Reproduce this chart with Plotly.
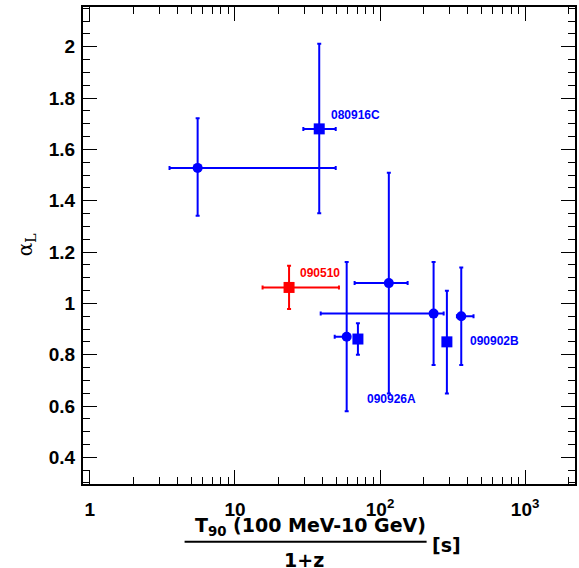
import plotly.graph_objects as go
import math

# ---- data ----
t90 = [5.53, 38.1, 23.6, 115, 234, 363, 289, 58.9, 70.4]
t90_lo = [3.54, 29.6, 15.5, 66.8, 39.0, 339, 289, 48.7, 70.4]
t90_hi = [49.5, 49.5, 52.1, 155, 274.5, 441, 289, 62.0, 70.4]
alpha = [1.528, 1.680, 1.062, 1.079, 0.960, 0.950, 0.850, 0.870, 0.861]
alpha_lo = [1.341, 1.351, 0.978, 0.649, 0.760, 0.760, 0.649, 0.580, 0.800]
alpha_hi = [1.721, 2.012, 1.147, 1.509, 1.161, 1.140, 1.049, 1.161, 0.922]
symbol = ["circle", "square", "square", "circle", "circle", "circle", "square", "circle", "square"]
color = ["#0000ff", "#0000ff", "#ff0000", "#0000ff", "#0000ff", "#0000ff", "#0000ff", "#0000ff", "#0000ff"]

label_text = ["080916C", "090510", "090926A", "090902B"]
label_x = [44.5, 27.4, 78.6, 401]
label_y = [1.734, 1.117, 0.626, 0.853]
label_color = ["#0000ff", "#ff0000", "#0000ff", "#0000ff"]

xtick_vals = [1, 10, 100, 1000]
xtick_text = ["1", "10", "10<sup>2</sup>", "10<sup>3</sup>"]

W, H = 579, 568
ML, MR, MT, MB = 83, 2, 7, 84
PW, PH = W - ML - MR, H - MT - MB

def px_x(p):
    return (p - ML) / PW

def px_y(p):
    return (H - MB - p) / PH

fig = go.Figure()
for i in range(len(t90)):
    fig.add_trace(go.Scatter(
        x=[t90[i]], y=[alpha[i]], mode="markers",
        marker=dict(symbol=symbol[i], size=11 if symbol[i] == "square" else 10,
                    color=color[i], line=dict(width=0)),
        error_x=dict(type="data", symmetric=False,
                     array=[t90_hi[i] - t90[i]], arrayminus=[t90[i] - t90_lo[i]],
                     color=color[i], thickness=2, width=2),
        error_y=dict(type="data", symmetric=False,
                     array=[alpha_hi[i] - alpha[i]], arrayminus=[alpha[i] - alpha_lo[i]],
                     color=color[i], thickness=2, width=2),
        showlegend=False, hoverinfo="skip",
    ))

minor_x = [k * 10 ** d for d in range(-1, 4) for k in range(2, 10)]

tick_font = dict(family="Liberation Sans", size=19, color="black", weight="bold")

fig.update_xaxes(
    type="log", range=[-0.0475, 3.344],
    showgrid=False, zeroline=False,
    showline=True, linecolor="black", linewidth=2, mirror="ticks",
    ticks="inside", ticklen=14, tickwidth=1.3, tickcolor="black",
    tickvals=xtick_vals, ticktext=xtick_text,
    tickfont=tick_font,
    ticklabelstandoff=7,
    minor=dict(ticks="inside", ticklen=7, tickwidth=1.3, tickcolor="black",
               tickvals=minor_x, showgrid=False),
)
fig.update_yaxes(
    range=[0.296, 2.155],
    showgrid=False, zeroline=False,
    showline=True, linecolor="black", linewidth=2, mirror="ticks",
    ticks="inside", ticklen=14, tickwidth=1.3, tickcolor="black",
    dtick=0.2, tick0=0,
    tickfont=tick_font,
    ticklabelstandoff=2,
    minor=dict(ticks="inside", ticklen=7, tickwidth=1.3, tickcolor="black",
               dtick=0.05, tick0=0, showgrid=False),
)

annotations = []
for t, x, y, c in zip(label_text, label_x, label_y, label_color):
    annotations.append(dict(
        x=math.log10(x), y=y, xref="x", yref="y", text=t, showarrow=False,
        xanchor="left", yanchor="middle",
        font=dict(family="Liberation Sans", size=12, color=c, weight="bold"),
    ))

# axis titles
title_font = dict(family="DejaVu Sans", size=19, color="black", weight="bold")
annotations.append(dict(x=px_x(311), y=px_y(526), xref="paper", yref="paper",
                        text="T<sub>90</sub> (100 MeV-10 GeV)", showarrow=False,
                        xanchor="center", yanchor="middle", font=title_font))
annotations.append(dict(x=px_x(305), y=px_y(560), xref="paper", yref="paper",
                        text="1+z", showarrow=False,
                        xanchor="center", yanchor="middle", font=title_font))
annotations.append(dict(x=px_x(447.5), y=px_y(545), xref="paper", yref="paper",
                        text="[s]", showarrow=False,
                        xanchor="center", yanchor="middle", font=title_font))
annotations.append(dict(x=px_x(26), y=px_y(245), xref="paper", yref="paper",
                        text="α<sub>L</sub>", showarrow=False, textangle=-90,
                        xanchor="center", yanchor="middle",
                        font=dict(family="DejaVu Serif", size=20, color="black")))

fig.update_layout(
    width=W, height=H,
    margin=dict(l=ML, r=MR, t=MT, b=MB),
    paper_bgcolor="white", plot_bgcolor="white",
    annotations=annotations,
    shapes=[dict(type="line", xref="paper", yref="paper",
                 x0=px_x(185), x1=px_x(428), y0=px_y(541.7), y1=px_y(541.7),
                 line=dict(color="black", width=2))],
)

fig.write_html("out.html")
